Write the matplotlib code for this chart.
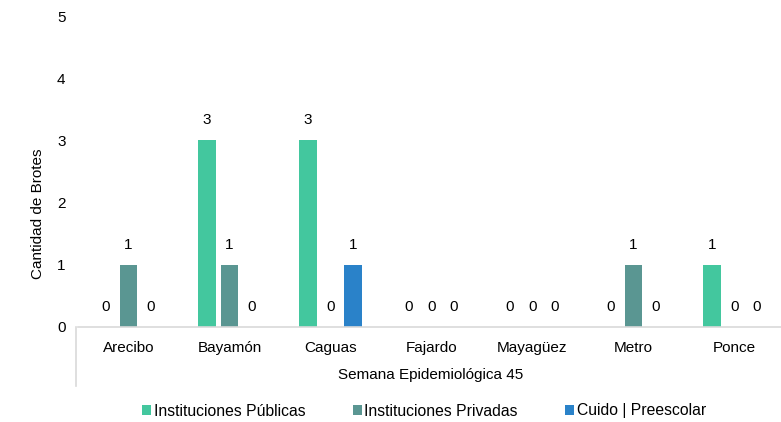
import numpy as np
import matplotlib.pyplot as plt
from matplotlib.lines import Line2D

plt.rcParams['font.family'] = ['Liberation Sans', 'DejaVu Sans']

regiones = ['Arecibo', 'Bayamón', 'Caguas', 'Fajardo', 'Mayagüez', 'Metro', 'Ponce']
publicas = [0, 3, 3, 0, 0, 0, 1]
privadas = [1, 1, 0, 0, 0, 1, 0]
cuido = [0, 0, 1, 0, 0, 0, 0]
series = ['Instituciones Públicas', 'Instituciones Privadas', 'Cuido | Preescolar']
colores = ['#43C79E', '#5A9692', '#2A82C9']

fig = plt.figure(figsize=(7.81, 4.22), dpi=100)
ax = fig.add_axes([78 / 781, 1 - 327 / 422, 707 / 781, 311 / 422])

x = np.arange(len(regiones))
w = 0.175
off = 0.222
for i, (vals, nombre, c) in enumerate(zip([publicas, privadas, cuido], series, colores)):
    pos = x + (i - 1) * off
    ax.bar(pos, vals, width=w, color=c, label=nombre, zorder=2)
    for p, v in zip(pos, vals):
        ax.annotate(str(v), (p, v), xytext=(0, 14.5), textcoords='offset points',
                    ha='center', va='center', fontsize=11, color='#000000')

ax.set_xlim(-0.5, len(regiones) - 0.5)
ax.set_ylim(0, 5)
ax.set_yticks(range(6))
ax.tick_params(axis='y', length=0, labelsize=11, pad=9)
ax.tick_params(axis='x', length=0, labelsize=11, pad=10)
ax.set_xticks(x)
ax.set_xticklabels(regiones)
for s in ['top', 'right', 'left']:
    ax.spines[s].set_visible(False)
ax.spines['bottom'].set_color('#D9D9D9')
ax.spines['bottom'].set_linewidth(1.2)

ax.set_ylabel('Cantidad de Brotes', fontsize=11)
ax.yaxis.set_label_coords(-0.047, 0.365)

# multi-level axis separator line and group label
fig.add_artist(Line2D([76 / 781, 76 / 781], [1 - 327 / 422, 1 - 386 / 422],
                      color='#D9D9D9', lw=1.2))
fig.text(431 / 781, 1 - 375 / 422, 'Semana Epidemiológica 45', ha='center', va='center',
         fontsize=11)

fig.legend(loc='center', bbox_to_anchor=(424 / 781, 1 - 411 / 422), ncol=3, frameon=False,
           fontsize=11.3, handlelength=0.6, handleheight=0.6, handletextpad=0.15,
           columnspacing=3.0)

fig.savefig('out.png', dpi=100)
